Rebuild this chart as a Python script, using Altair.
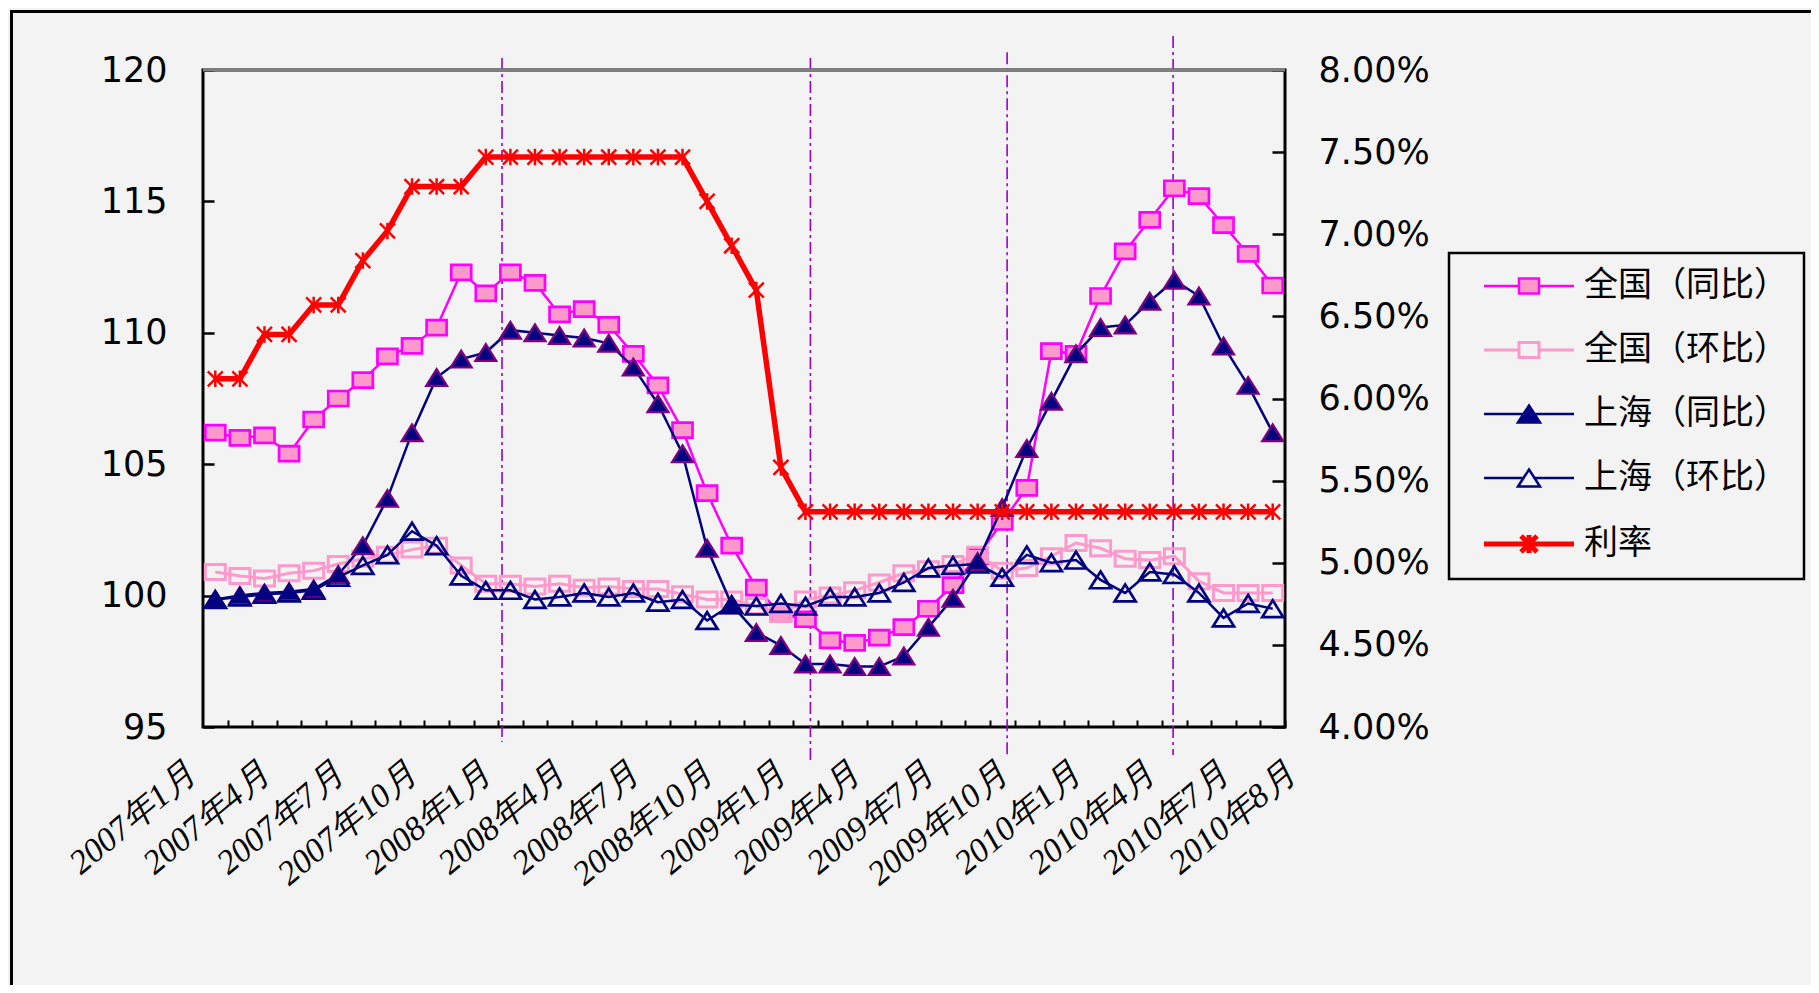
import altair as alt
import pandas as pd

# ---------------- data ----------------
month_idx = list(range(44))  # 2007-01 .. 2010-08
x_tick_labels = [
    "2007年1月", "", "", "2007年4月", "", "", "2007年7月", "", "", "2007年10月", "", "",
    "2008年1月", "", "", "2008年4月", "", "", "2008年7月", "", "", "2008年10月", "", "",
    "2009年1月", "", "", "2009年4月", "", "", "2009年7月", "", "", "2009年10月", "", "",
    "2010年1月", "", "", "2010年4月", "", "", "2010年7月", "2010年8月",
]

nat_yoy = [106.2, 106.0, 106.1, 105.4, 106.7, 107.5, 108.2, 109.1, 109.5, 110.2, 112.3, 111.5,
           112.3, 111.9, 110.7, 110.9, 110.3, 109.2, 108.0, 106.3, 103.9, 101.9, 100.3, 99.3,
           99.1, 98.3, 98.2, 98.4, 98.8, 99.5, 100.4, 101.5, 102.8, 104.1, 109.3, 109.2,
           111.4, 113.1, 114.3, 115.5, 115.2, 114.1, 113.0, 111.8]
nat_mom = [100.9, 100.75, 100.65, 100.85, 100.95, 101.2, 101.4, 101.55, 101.75, 101.9, 101.15, 100.45,
           100.45, 100.35, 100.45, 100.3, 100.35, 100.25, 100.25, 100.05, 99.85, 99.85, 99.6, 99.3,
           99.85, 100.0, 100.2, 100.5, 100.85, 101.0, 101.2, 101.55, 100.95, 101.05, 101.5, 102.0,
           101.8, 101.4, 101.35, 101.5, 100.55, 100.1, 100.1, 100.1]
sh_yoy = [99.85, 100.0, 100.1, 100.15, 100.25, 100.8, 101.9, 103.7, 106.2, 108.3, 109.0, 109.25,
          110.1, 110.0, 109.9, 109.8, 109.6, 108.7, 107.3, 105.4, 101.8, 99.65, 98.6, 98.1,
          97.4, 97.4, 97.3, 97.3, 97.7, 98.8, 99.9, 101.3, 103.35, 105.6, 107.4, 109.2,
          110.2, 110.3, 111.2, 112.0, 111.4, 109.5, 108.0, 106.2]
sh_mom = [99.85, 99.95, 100.05, 100.1, 100.2, 100.7, 101.15, 101.55, 102.45, 101.9, 100.75, 100.2,
          100.2, 99.85, 99.95, 100.1, 99.95, 100.1, 99.75, 99.85, 99.05, 99.65, 99.6, 99.7,
          99.6, 99.95, 99.95, 100.1, 100.5, 101.05, 101.15, 101.2, 100.7, 101.55, 101.25, 101.35,
          100.6, 100.1, 100.9, 100.8, 100.1, 99.15, 99.7, 99.5]
rate = [6.12, 6.12, 6.39, 6.39, 6.57, 6.57, 6.84, 7.02, 7.29, 7.29, 7.29, 7.47,
        7.47, 7.47, 7.47, 7.47, 7.47, 7.47, 7.47, 7.47, 7.20, 6.93, 6.66, 5.58,
        5.31, 5.31, 5.31, 5.31, 5.31, 5.31, 5.31, 5.31, 5.31, 5.31, 5.31, 5.31,
        5.31, 5.31, 5.31, 5.31, 5.31, 5.31, 5.31, 5.31]

# dash-dot marker lines (month position, top and bottom on the left axis)
event_x = [11.66, 24.2, 32.2, 38.95]
event_top = [120.46, 120.46, 120.68, 121.29]
event_bottom = [94.43, 93.67, 93.93, 93.93]

series_names = ["全国（同比）", "全国（环比）", "上海（同比）", "上海（环比）", "利率"]

left_ticks = [95, 100, 105, 110, 115, 120]
right_ticks = [4.0, 4.5, 5.0, 5.5, 6.0, 6.5, 7.0, 7.5, 8.0]

df = pd.DataFrame({"month": month_idx, "nat_yoy": nat_yoy, "nat_mom": nat_mom,
                   "sh_yoy": sh_yoy, "sh_mom": sh_mom, "rate": rate})
ev_df = pd.DataFrame({"ex": event_x, "etop": event_top, "ebot": event_bottom})
one_row = pd.DataFrame({"k": [0]})
legend_df = pd.DataFrame({"series": series_names})

# ---------------- styling ----------------
W, H = 1082, 657
NUM_FONT = "DejaVu Sans"
CJK_FONT = "Noto Sans CJK SC"

SQ = "M-1,-0.75H1V0.75H-1Z"
TRI = "M0,-0.8L1,0.8L-1,0.8Z"
STAR = "M-1,-1L1,1M-1,1L1,-1M0,-1.1V1.1"

x_scale = alt.Scale(domain=[-0.5, 43.5], nice=False, zero=False)
y_scale = alt.Scale(domain=[95, 120], nice=False, zero=False)
r_scale = alt.Scale(domain=[4, 8], nice=False, zero=False)

half_band = W / 88
label_array = "[" + ",".join("'" + s + "'" for s in x_tick_labels) + "]"
x_axis = alt.Axis(values=month_idx, title=None, domain=False, grid=False,
                  ticks=True, tickSize=7, tickColor="black", tickWidth=2,
                  offset=-7, tickOffset=half_band,
                  labelExpr=label_array + "[datum.value]",
                  labelAngle=-40, labelAlign="right", labelBaseline="middle",
                  labelPadding=42,
                  labelOffset={"condition": {"test": "datum.value == 43",
                                             "value": -half_band + 18},
                               "value": -half_band - 24},
                  labelFont="Liberation Serif", labelFontStyle="italic",
                  labelFontSize=34, labelColor="black",
                  labelOverlap=False, labelFlush=False, labelBound=False)
y_axis = alt.Axis(values=left_ticks, title=None, domain=False, grid=False,
                  ticks=True, tickSize=11, tickColor="black", tickWidth=2.5,
                  offset=-11, labelPadding=36, labelFont=NUM_FONT,
                  labelFontSize=35, labelColor="black")
r_axis = alt.Axis(values=right_ticks, title=None, domain=False, grid=False,
                  orient="right", ticks=True, tickSize=13, tickColor="black",
                  tickWidth=2.5, offset=-13, labelPadding=33, labelFont=NUM_FONT,
                  labelFontSize=35, labelColor="black",
                  labelExpr="format(datum.value / 100, '.2%')")

X = alt.X("month:Q", scale=x_scale, axis=x_axis)


def yl(col):
    return alt.Y(col + ":Q", scale=y_scale, axis=y_axis)


frame = alt.Chart(one_row).mark_rect(fillOpacity=0, stroke="black", strokeWidth=3).encode(
    x=alt.value(-191.5), x2=alt.value(1700), y=alt.value(-58.5), y2=alt.value(1000))
top_rule = alt.Chart(one_row).mark_rule(color="#808080", strokeWidth=3.2).encode(
    x=alt.value(0), x2=alt.value(W), y=alt.value(0))
events = alt.Chart(ev_df).mark_rule(color="#9900CC", strokeWidth=1.6,
                                    strokeDash=[12, 4, 3, 4]).encode(
    x=alt.X("ex:Q", scale=x_scale, axis=x_axis),
    y=alt.Y("etop:Q", scale=y_scale, axis=y_axis), y2="ebot:Q")

base = alt.Chart(df)
l1 = base.mark_line(color="#FF00FF", strokeWidth=2.5).encode(x=X, y=yl("nat_yoy"))
p1 = base.mark_point(shape=SQ, size=400, filled=True, fill="#FF99CC", stroke="#FF00FF",
                     strokeWidth=2.7, opacity=1).encode(x=X, y=yl("nat_yoy"))
l2 = base.mark_line(color="#FF99CC", strokeWidth=3).encode(x=X, y=yl("nat_mom"))
p2 = base.mark_point(shape=SQ, size=400, filled=False, stroke="#FF99CC",
                     strokeWidth=3, opacity=1).encode(x=X, y=yl("nat_mom"))
l3 = base.mark_line(color="#000080", strokeWidth=2.5).encode(x=X, y=yl("sh_yoy"))
p3 = base.mark_point(shape=TRI, size=441, filled=True, fill="#000080", stroke="#800080",
                     strokeWidth=2.2, opacity=1).encode(x=X, y=yl("sh_yoy"))
l4 = base.mark_line(color="#000080", strokeWidth=2.5).encode(x=X, y=yl("sh_mom"))
p4 = base.mark_point(shape=TRI, size=441, filled=False, stroke="#000080",
                     strokeWidth=2.7, opacity=1).encode(x=X, y=yl("sh_mom"))

# legend built by the library from scales of a mark layer with no rows
leg_shapes = [
    "M-4.5,0H-1M1,0H4.5M-1,-0.75H1V0.75H-1Z",
    "M-4.5,0H-1M1,0H4.5M-1,-0.75H1V0.75H-1Z",
    "M-4.5,0H-0.55M0.55,0H4.5M0,-0.85L1.1,0.85L-1.1,0.85Z",
    "M-4.5,0H-0.55M0.55,0H4.5M0,-0.85L1.1,0.85L-1.1,0.85Z",
    "M-4.5,0H4.5M-0.8,-0.8L0.8,0.8M-0.8,0.8L0.8,-0.8M0,-0.9V0.9",
]
leg = alt.Legend(title=None, orient="none", legendX=1246, legendY=183, padding=16,
                 strokeColor="black", fillColor="#F3F3F3",
                 labelFont=CJK_FONT, labelFontSize=34, labelColor="black",
                 labelLimit=500,
                 symbolSize=400, symbolOffset=47, labelOffset=38, rowPadding=30,
                 labelExpr="datum.label + '  '")
legend_layer = alt.Chart(legend_df).mark_point(opacity=1, filled=True).encode(
    shape=alt.Shape("series:N", scale=alt.Scale(domain=series_names, range=leg_shapes), legend=leg),
    fill=alt.Fill("series:N", scale=alt.Scale(domain=series_names,
                  range=["#FF99CC", "transparent", "#000080", "transparent", "#FF0000"]), legend=leg),
    stroke=alt.Stroke("series:N", scale=alt.Scale(domain=series_names,
                      range=["#FF00FF", "#FF99CC", "#000080", "#000080", "#FF0000"]), legend=leg),
    strokeWidth=alt.StrokeWidth("series:N", scale=alt.Scale(type="ordinal", domain=series_names,
                                range=[2.5, 3, 2.5, 2.5, 5]), legend=leg),
).transform_filter("false")

left_group = alt.layer(frame, events, top_rule, l1, p1, l2, p2, l3, p3, l4, p4, legend_layer)

rl = base.mark_line(color="#FF0000", strokeWidth=5.5).encode(
    x=X, y=alt.Y("rate:Q", scale=r_scale, axis=r_axis))
rp = base.mark_point(shape=STAR, size=225, filled=False, stroke="#FF0000",
                     strokeWidth=2.5, opacity=1).encode(
    x=X, y=alt.Y("rate:Q", scale=r_scale, axis=r_axis))
right_group = alt.layer(rl, rp)

chart = alt.layer(left_group, right_group).resolve_scale(y="independent").properties(
    width=W, height=H,
    autosize=alt.AutoSizeParams(type="none"),
    padding={"left": 195, "top": 62, "right": 526, "bottom": 258},
    background="#F3F3F3",
).configure_view(fill="#CCFFFF", stroke="black", strokeWidth=3
).configure_legend(strokeWidth=2.5)

chart.save("out.html", embed_options={"renderer": "svg", "actions": False})
